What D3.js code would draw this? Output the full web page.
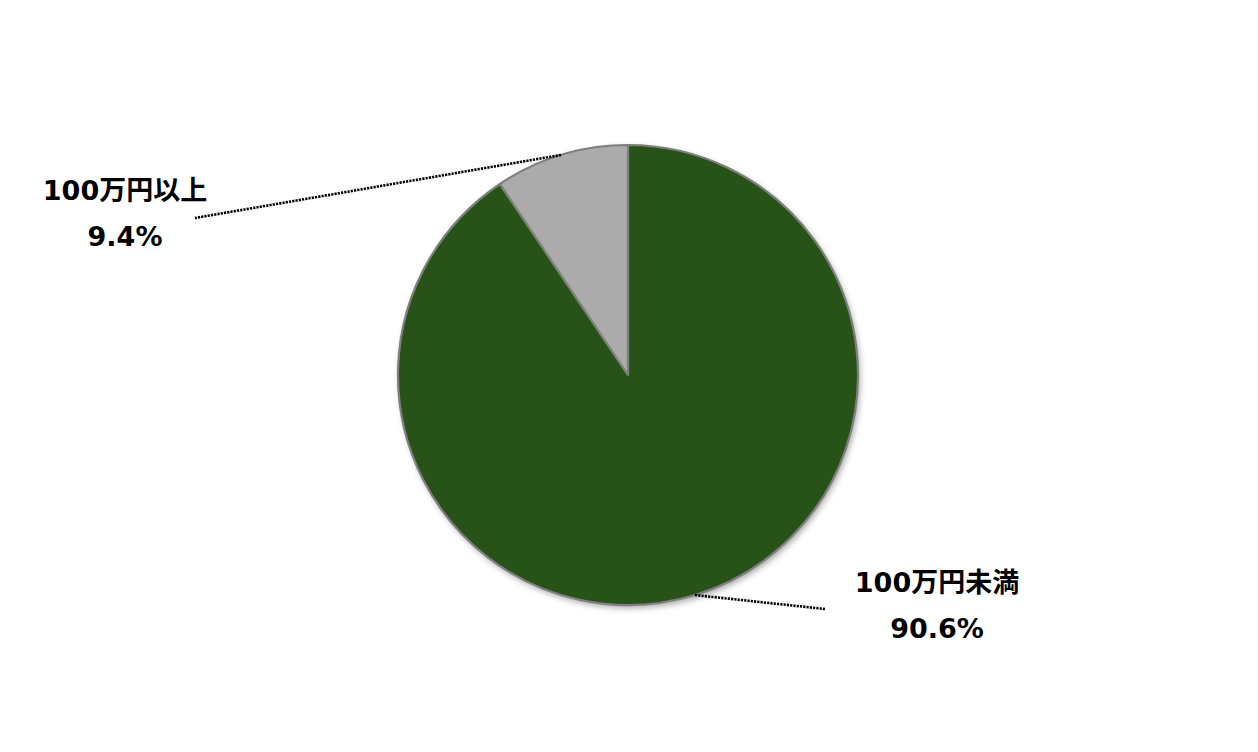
<!DOCTYPE html>
<html><head><meta charset="utf-8">
<script src="https://cdn.jsdelivr.net/npm/d3@7"></script>
<style>body{margin:0;background:#fff}svg{display:block}text{font-family:"DejaVu Sans","Noto Sans CJK JP",sans-serif;font-weight:bold;fill:#000}</style>
</head><body>
<svg id="c" width="1258" height="752"></svg>
<script>
const categories = ["100万円未満", "100万円以上"];
const values = [90.6, 9.4];
const valueLabels = ["90.6%", "9.4%"];
const colors = ["#275218", "#ababab"];

const svg = d3.select("#c");
const cx = 628, cy = 375, r = 230;
const defs = svg.append("defs");
const f = defs.append("filter").attr("id","sh").attr("x","-20%").attr("y","-20%").attr("width","140%").attr("height","140%");
f.append("feDropShadow").attr("dx",2).attr("dy",3).attr("stdDeviation",3).attr("flood-color","#000").attr("flood-opacity",0.35);

const pie = d3.pie().sort(null).value(d => d);
const arcs = pie(values);
const arc = d3.arc().innerRadius(0).outerRadius(r);
const g = svg.append("g").attr("transform", `translate(${cx},${cy})`);
g.append("circle").attr("r", r).attr("fill","#fff").attr("filter","url(#sh)");
g.selectAll("path").data(arcs).join("path")
  .attr("d", arc).attr("fill", (d,i) => colors[i])
  .attr("stroke", "#7f7f7f").attr("stroke-width", 2.2).attr("stroke-linejoin","round");

const labelPos = [{x: 937, y: 582, lx: 825, ly: 609}, {x: 125, y: 190, lx: 195, ly: 218}];
arcs.forEach((d, i) => {
  const a = (d.startAngle + d.endAngle) / 2;
  const sx = cx + r * Math.sin(a), sy = cy - r * Math.cos(a);
  const p = labelPos[i];
  svg.append("line").attr("x1", sx).attr("y1", sy).attr("x2", p.lx).attr("y2", p.ly)
    .attr("stroke", "#000").attr("stroke-width", 2.6).attr("stroke-dasharray", "2.2,1.1");
  svg.append("text").attr("x", p.x).attr("y", p.y).attr("text-anchor","middle")
    .attr("dominant-baseline","central").attr("font-size", 27).text(categories[i]);
  svg.append("text").attr("x", p.x).attr("y", p.y + 46).attr("text-anchor","middle")
    .attr("dominant-baseline","central").attr("font-size", 27).text(valueLabels[i]);
});
</script>
</body></html>
